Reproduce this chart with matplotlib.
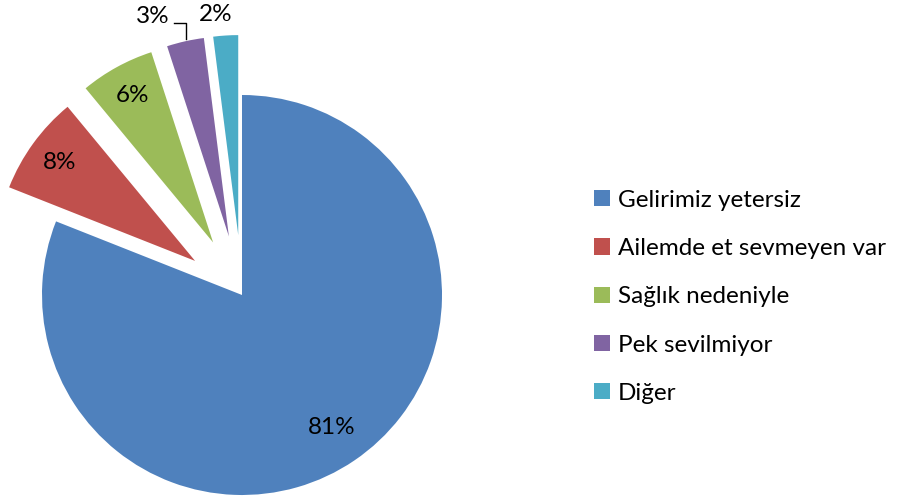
import numpy as np
import matplotlib.pyplot as plt

plt.rcParams['font.family'] = ['Lato', 'DejaVu Sans']

# survey answers
labels = ['Gelirimiz yetersiz', 'Ailemde et sevmeyen var', 'Sağlık nedeniyle',
          'Pek sevilmiyor', 'Diğer']
values = [81, 8, 6, 3, 2]
colors = ['#4F81BD', '#C0504D', '#9BBB59', '#8064A2', '#4BACC6']

W, H = 899, 499
fig = plt.figure(figsize=(W / 100, H / 100), dpi=100)
ax = fig.add_axes([0, 0, 1, 1])

cx, cy, r = 242, H - 295, 200
# explode is in data units when center/radius are given
explode = [0, 0.29 * r, 0.3 * r, 0.3 * r, 0.3 * r]
wedges, _ = ax.pie(values, colors=colors, explode=explode, startangle=90,
                   counterclock=False, center=(cx, cy), radius=r,
                   wedgeprops=dict(linewidth=0), frame=True)
ax.set_xlim(0, W)
ax.set_ylim(0, H)
ax.set_aspect('equal')
ax.axis('off')

fs = 17.5
total = sum(values)
for i, (w, v) in enumerate(zip(wedges, values)):
    mid = np.deg2rad((w.theta1 + w.theta2) / 2)
    wx, wy = w.center
    txt = f'{round(100 * v / total)}%'
    if v >= 5:
        d = 0.8 * r if i == 0 else 0.84 * r
        ax.text(wx + d * np.cos(mid), wy + d * np.sin(mid), txt, fontsize=fs,
                ha='center', va='center')

# small slices get labels above the pie
ax.text(153, H - 16, f'{values[3]}%', fontsize=fs, ha='center', va='center')
ax.plot([174, 186, 186], [H - 22.5, H - 22.5, H - 39], color='black', lw=1)
ax.text(216, H - 14, f'{values[4]}%', fontsize=fs, ha='center', va='center')

ax.legend(wedges, labels, loc='upper left', bbox_to_anchor=(572 / W, 1 - 168 / H),
          frameon=False, fontsize=fs, handlelength=0.65, handleheight=0.65,
          handletextpad=0.35, labelspacing=1.12)

fig.savefig('out.png', dpi=100)
